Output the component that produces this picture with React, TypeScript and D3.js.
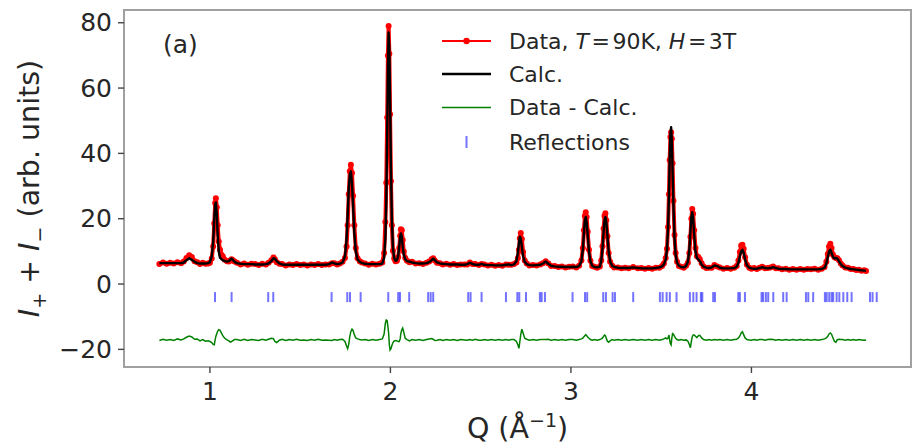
import React, { useEffect } from "react";
import * as d3 from "d3";

// ---------- data ----------
const qValues = [
  0.72,0.74,0.76,0.78,0.80,0.82,0.84,0.855,0.87,0.885,
  0.90,0.915,0.93,0.945,0.96,0.975,0.99,1.000,1.010,1.018,
  1.024,1.029,1.033,1.038,1.043,1.049,1.056,1.064,1.072,1.082,
  1.095,1.105,1.113,1.120,1.127,1.136,1.15,1.17,1.19,1.21,
  1.23,1.25,1.27,1.29,1.31,1.325,1.340,1.352,1.360,1.370,
  1.385,1.40,1.42,1.44,1.46,1.48,1.50,1.52,1.54,1.56,
  1.58,1.60,1.62,1.64,1.66,1.676,1.69,1.705,1.72,1.735,
  1.748,1.757,1.763,1.769,1.775,1.781,1.787,1.793,1.800,1.808,
  1.818,1.830,1.842,1.86,1.88,1.90,1.92,1.94,1.955,1.965,
  1.972,1.977,1.982,1.986,1.990,1.994,1.998,2.003,2.008,2.014,
  2.021,2.028,2.036,2.043,2.049,2.054,2.058,2.063,2.068,2.074,
  2.082,2.092,2.105,2.12,2.14,2.16,2.18,2.20,2.215,2.228,
  2.237,2.246,2.258,2.275,2.29,2.31,2.33,2.35,2.37,2.39,
  2.41,2.425,2.44,2.455,2.47,2.49,2.505,2.52,2.54,2.56,
  2.58,2.60,2.62,2.64,2.655,2.67,2.685,2.698,2.706,2.712,
  2.717,2.722,2.728,2.735,2.744,2.755,2.77,2.79,2.81,2.83,
  2.845,2.86,2.875,2.89,2.91,2.93,2.95,2.97,2.99,3.01,
  3.03,3.045,3.058,3.066,3.072,3.077,3.082,3.087,3.093,3.100,
  3.108,3.118,3.13,3.145,3.16,3.168,3.175,3.181,3.186,3.191,
  3.196,3.202,3.209,3.217,3.228,3.24,3.26,3.28,3.30,3.32,
  3.345,3.37,3.39,3.41,3.43,3.45,3.47,3.49,3.505,3.515,
  3.525,3.532,3.538,3.543,3.547,3.551,3.555,3.559,3.563,3.568,
  3.574,3.580,3.588,3.598,3.61,3.625,3.638,3.648,3.656,3.662,
  3.667,3.672,3.677,3.683,3.690,3.698,3.706,3.714,3.724,3.735,
  3.75,3.765,3.78,3.795,3.81,3.825,3.845,3.865,3.885,3.905,
  3.918,3.928,3.936,3.943,3.950,3.957,3.965,3.975,3.988,4.00,
  4.015,4.03,4.045,4.06,4.075,4.09,4.105,4.12,4.135,4.15,
  4.17,4.19,4.21,4.23,4.25,4.27,4.29,4.31,4.33,4.35,
  4.37,4.39,4.405,4.415,4.423,4.430,4.437,4.444,4.452,4.460,
  4.468,4.476,4.485,4.495,4.505,4.52,4.535,4.55,4.565,4.58,
  4.595,4.61,4.625,4.635,
];

const calcValues = [
  6.4,6.4,6.4,6.4,6.4,6.4,6.4,6.6,7.3,7.9,
  7.4,6.8,6.4,6.3,6.3,6.3,6.4,6.7,8.5,13.0,
  20.0,24.5,25.0,21.5,15.0,10.0,8.0,7.6,7.3,7.0,
  6.9,7.0,7.5,7.8,7.4,6.8,6.4,6.2,6.1,6.1,
  6.1,6.0,6.0,6.0,6.1,6.3,7.0,7.9,7.8,7.0,
  6.3,6.0,5.9,5.9,5.9,5.9,5.9,5.9,5.9,5.9,
  5.9,5.9,5.9,5.9,6.1,6.6,6.3,6.1,6.2,6.6,
  8.5,13.5,21.0,29.0,33.5,34.5,31.0,24.0,15.5,10.0,
  7.5,6.8,6.5,6.2,6.1,6.1,6.1,6.1,6.3,8.0,
  14.0,25.0,45.0,66.0,77.0,72.0,56.0,35.0,20.0,11.0,
  8.0,7.1,7.3,8.6,11.5,14.5,15.5,14.5,11.5,9.0,
  7.6,7.0,6.9,6.6,6.4,6.3,6.3,6.4,6.7,7.3,
  7.8,7.3,6.6,6.3,6.2,6.1,6.0,6.0,6.0,5.9,
  5.9,6.1,6.5,6.2,5.9,5.9,6.2,5.9,5.8,5.8,
  5.7,5.7,5.7,5.9,6.0,5.8,6.0,7.0,9.5,12.5,
  14.5,14.0,11.5,8.5,6.8,6.1,5.8,5.7,5.8,5.9,
  6.3,6.9,6.2,5.6,5.4,5.3,5.3,5.2,5.2,5.3,
  5.2,5.5,7.0,10.5,15.5,19.5,20.5,19.0,15.0,10.0,
  7.0,5.6,5.2,5.1,5.3,7.0,11.0,16.0,19.5,20.5,
  19.0,15.0,10.0,7.0,5.6,5.2,5.0,4.9,4.9,4.9,
  5.1,4.9,4.8,4.8,4.8,4.8,4.9,5.1,5.4,6.0,
  7.5,10.5,17.0,27.0,38.0,46.0,48.0,44.0,35.0,24.0,
  14.0,9.0,6.6,5.6,5.2,5.1,5.5,6.8,10.5,16.0,
  20.5,22.0,20.0,15.0,10.0,8.0,7.5,7.0,6.0,5.3,
  5.0,4.9,5.1,5.7,5.5,5.0,4.8,4.8,4.8,4.9,
  5.3,6.5,8.5,10.0,10.5,9.5,7.5,5.8,5.0,4.8,
  4.7,4.7,4.9,5.2,4.9,4.8,4.9,5.2,4.9,4.7,
  4.6,4.6,4.5,4.5,4.5,4.5,4.5,4.5,4.5,4.5,
  4.5,4.6,5.0,6.2,8.2,10.0,10.5,9.5,8.3,7.8,
  8.0,7.8,7.0,6.1,5.5,5.0,4.8,4.6,4.5,4.4,
  4.3,4.2,4.1,4.1,
];

const obsValues = [
  6.1,6.6,6.2,6.5,6.3,6.7,6.4,6.9,8.0,8.8,
  8.3,7.0,6.7,6.1,6.5,6.2,6.3,6.5,7.8,11.5,
  18.5,24.8,26.3,23.5,18.0,13.0,10.5,9.0,8.4,7.4,
  7.0,6.9,7.2,7.6,7.3,6.9,6.5,6.0,6.3,5.9,
  6.2,6.1,5.8,6.2,6.0,6.5,7.3,8.1,7.6,6.7,
  6.2,6.1,5.7,6.0,5.8,6.1,5.8,6.0,5.7,6.0,
  5.8,6.1,5.8,6.0,6.0,6.4,6.4,6.0,6.3,6.8,
  8.0,11.5,18.0,27.5,34.5,36.5,34.0,27.0,18.0,11.0,
  7.9,7.0,6.6,6.3,5.9,6.2,6.0,6.2,6.6,9.5,
  19.0,31.0,51.0,70.0,79.0,70.5,52.0,31.5,18.0,10.2,
  7.8,7.0,7.1,8.2,11.0,14.8,16.8,16.5,13.5,10.0,
  8.0,7.1,6.7,6.8,6.3,6.4,6.1,6.5,6.9,7.6,
  7.9,7.2,6.5,6.4,6.0,6.2,5.9,6.1,5.8,6.0,
  6.0,6.0,6.6,6.1,6.1,5.8,6.1,6.0,5.7,5.9,
  5.6,5.8,5.6,6.0,5.9,5.9,6.1,6.6,8.0,10.5,
  14.0,15.6,13.8,9.8,7.2,6.3,5.7,5.8,5.7,6.0,
  6.4,7.0,6.3,5.5,5.5,5.2,5.4,5.1,5.3,5.4,
  5.1,5.6,7.2,11.0,16.5,20.8,22.0,20.5,16.0,10.5,
  7.1,5.5,5.3,5.0,5.4,7.2,11.6,17.0,20.8,21.7,
  19.5,14.6,9.5,6.8,5.7,5.1,5.1,4.8,5.0,4.8,
  5.2,4.8,4.9,4.7,4.9,4.7,5.0,5.0,5.5,6.3,
  8.0,10.8,17.5,27.5,38.0,45.0,46.5,44.5,37.0,25.5,
  15.0,9.5,6.8,5.5,5.3,5.0,5.6,6.5,9.5,14.5,
  20.0,23.0,21.5,16.5,11.0,8.5,8.3,7.6,6.4,5.4,
  4.9,5.0,5.0,5.8,5.4,5.1,4.7,4.9,4.7,5.0,
  5.5,7.2,9.8,11.8,12.0,10.8,8.2,5.9,5.0,4.7,
  4.9,4.6,5.0,5.3,4.8,4.9,5.1,5.4,4.8,4.8,
  4.5,4.7,4.4,4.6,4.4,4.6,4.4,4.6,4.5,4.7,
  4.4,4.7,5.2,6.8,9.2,11.5,12.3,11.0,9.0,8.2,
  8.0,7.9,7.3,6.3,5.7,5.1,5.0,4.6,4.6,4.3,
  4.4,4.1,4.2,4.0,
];

// Data - Calc, drawn with its offset as in the reference
const diffValues = [
  -17.3,-16.9,-17.2,-17.0,-17.3,-16.8,-17.1,-16.8,-16.3,-15.9,
  -16.2,-16.9,-16.8,-17.4,-17.0,-17.5,-17.4,-17.6,-17.9,-18.5,
  -18.6,-17.0,-16.0,-15.2,-14.4,-14.0,-14.2,-15.0,-15.9,-16.6,
  -17.1,-17.4,-17.8,-17.6,-17.3,-17.0,-17.0,-17.3,-16.9,-17.3,
  -17.0,-17.1,-17.3,-16.9,-17.2,-16.9,-16.6,-16.7,-17.6,-17.9,
  -17.2,-16.9,-17.3,-17.0,-17.2,-16.9,-17.2,-17.1,-17.3,-17.0,
  -17.2,-16.9,-17.2,-17.1,-17.2,-17.3,-17.0,-17.2,-17.0,-16.9,
  -17.6,-19.0,-19.8,-18.5,-16.0,-14.5,-13.8,-14.2,-15.5,-16.5,
  -16.8,-17.0,-17.1,-17.0,-17.3,-17.0,-17.2,-17.0,-16.8,-15.3,
  -12.0,-11.0,-11.2,-13.0,-15.0,-18.6,-20.2,-19.8,-18.8,-17.9,
  -17.4,-17.3,-17.4,-17.6,-17.6,-16.8,-15.0,-14.0,-13.5,-14.8,
  -16.6,-17.0,-17.4,-17.0,-17.2,-17.0,-17.3,-17.0,-16.8,-16.7,
  -16.9,-17.3,-17.2,-17.0,-17.3,-17.0,-17.2,-17.0,-17.3,-17.0,
  -17.1,-17.2,-17.0,-17.2,-16.9,-17.2,-17.2,-17.0,-17.2,-17.0,
  -17.2,-17.0,-17.2,-17.0,-17.2,-17.0,-17.0,-17.6,-18.6,-19.7,
  -17.6,-15.5,-13.8,-15.0,-16.6,-16.9,-17.2,-17.0,-17.2,-17.0,
  -17.0,-17.0,-16.9,-17.2,-17.0,-17.2,-17.0,-17.2,-17.0,-17.0,
  -17.2,-17.0,-16.8,-16.6,-16.1,-15.8,-15.5,-15.8,-16.2,-16.6,
  -17.0,-17.2,-17.0,-17.2,-17.0,-16.8,-16.5,-16.0,-15.6,-15.8,
  -16.6,-17.5,-17.8,-17.4,-17.0,-17.2,-17.0,-17.2,-17.0,-17.2,
  -17.0,-17.2,-17.0,-17.2,-17.0,-17.2,-17.0,-17.2,-17.0,-16.8,
  -16.5,-16.8,-16.6,-15.6,-17.1,-18.2,-18.6,-16.6,-15.2,-15.4,
  -16.0,-16.6,-17.0,-17.2,-17.0,-17.2,-17.1,-17.5,-18.5,-19.5,
  -17.6,-16.2,-15.6,-15.6,-16.0,-16.4,-15.8,-15.7,-16.5,-17.0,
  -17.2,-17.0,-17.2,-17.0,-17.1,-17.0,-17.2,-17.0,-17.2,-17.0,
  -16.9,-16.5,-15.9,-15.0,-14.6,-15.5,-16.5,-17.0,-17.1,-17.2,
  -17.0,-17.2,-17.0,-17.0,-17.2,-17.0,-16.9,-17.0,-17.2,-17.0,
  -17.2,-17.0,-17.2,-17.0,-17.2,-17.0,-17.2,-17.0,-17.2,-17.0,
  -17.2,-17.0,-16.8,-16.5,-16.0,-15.3,-15.0,-15.4,-16.5,-17.6,
  -17.8,-17.0,-16.9,-17.0,-17.0,-17.2,-17.0,-17.2,-17.0,-17.2,
  -17.0,-17.1,-17.2,-17.1,
];

const reflectionQ = [
  1.028,1.120,1.323,1.351,1.674,1.761,1.776,1.835,1.988,2.043,2.053,2.104,
  2.209,2.223,2.237,2.431,2.444,2.505,2.640,2.703,2.714,2.751,2.828,2.838,
  2.856,3.009,3.078,3.090,3.179,3.194,3.231,3.244,3.345,3.493,3.508,3.530,
  3.548,3.585,3.659,3.678,3.696,3.720,3.728,3.788,3.798,3.927,3.936,3.964,
  4.056,4.065,4.080,4.093,4.121,4.176,4.195,4.302,4.315,4.342,4.407,4.417,
  4.431,4.444,4.453,4.472,4.487,4.509,4.531,4.555,4.657,4.671,4.694,
];
const reflectionLevel = -4;

const xTicks = [1, 2, 3, 4];
const yTicks = [-20, 0, 20, 40, 60, 80];
const xDomain = [0.524, 4.884];
const yDomain = [-25.4, 83.9];

const W = 912;
const H = 445;
const FONT = "DejaVu Sans, sans-serif";
const TXT = "#262626";

export default function App() {
  useEffect(() => {
    document.body.style.margin = "0";
  }, []);

  const left = 124, right = 911, top = 10, bottom = 367;
  const x = d3.scaleLinear().domain(xDomain).range([left, right]);
  const y = d3.scaleLinear().domain(yDomain).range([bottom, top]);

  const obsPts: [number, number][] = qValues.map((q, i) => [q, obsValues[i]]);
  const calcPts: [number, number][] = qValues.map((q, i) => [q, calcValues[i]]);
  const diffPts: [number, number][] = qValues.map((q, i) => [q, diffValues[i]]);

  const line = d3
    .line<[number, number]>()
    .x((d) => x(d[0]))
    .y((d) => y(d[1]));

  const legendX1 = 442, legendX2 = 491, legendMid = 466.5, legendText = 509;
  const rows = [41, 74, 107.5, 142];

  return (
    <svg
      width={W}
      height={H}
      style={{ position: "absolute", left: 0, top: 0, display: "block", background: "#fff" }}
      fontFamily={FONT}
    >
      <defs>
        <clipPath id="plotclip">
          <rect x={left} y={top} width={right - left} height={bottom - top} />
        </clipPath>
      </defs>

      <g clipPath="url(#plotclip)">
        {/* observed data: red line with dots */}
        <path d={line(obsPts) || ""} fill="none" stroke="#ff0000" strokeWidth={4} strokeLinejoin="round" />
        {obsPts.map((d, i) => (
          <circle key={"o" + i} cx={x(d[0])} cy={y(d[1])} r={3} fill="#ff0000" />
        ))}
        {/* calc */}
        <path d={line(calcPts) || ""} fill="none" stroke="#000" strokeWidth={2.4} strokeLinejoin="round" />
        {/* difference */}
        <path d={line(diffPts) || ""} fill="none" stroke="#008000" strokeWidth={1.5} />
        {/* reflections */}
        {reflectionQ.map((q, i) => (
          <line
            key={"r" + i}
            x1={x(q)}
            x2={x(q)}
            y1={y(reflectionLevel) - 5}
            y2={y(reflectionLevel) + 5}
            stroke="#0000ff"
            strokeOpacity={0.55}
            strokeWidth={2}
          />
        ))}
      </g>

      {/* frame */}
      <rect x={left} y={top} width={right - left} height={bottom - top} fill="none" stroke="#a0a0a0" strokeWidth={2} />

      {/* y ticks */}
      {yTicks.map((t) => (
        <g key={"yt" + t}>
          <line x1={left - 6} x2={left} y1={y(t)} y2={y(t)} stroke="#444" strokeWidth={1.4} />
          <text x={left - 12} y={y(t)} textAnchor="end" dominantBaseline="central" fontSize={25} fill={TXT}>
            {t < 0 ? "\u2212" + Math.abs(t) : String(t)}
          </text>
        </g>
      ))}

      {/* x ticks */}
      {xTicks.map((t) => (
        <g key={"xt" + t}>
          <line x1={x(t)} x2={x(t)} y1={bottom} y2={bottom + 6} stroke="#444" strokeWidth={1.4} />
          <text x={x(t)} y={400} textAnchor="middle" fontSize={25} fill={TXT}>
            {String(t)}
          </text>
        </g>
      ))}

      {/* x label */}
      <text x={(left + right) / 2} y={438} textAnchor="middle" fontSize={28.5} fill={TXT}>
        Q (Å
        <tspan dy={-11} fontSize={19}>{"\u22121"}</tspan>
        <tspan dy={11}>)</tspan>
      </text>

      {/* y label */}
      <text
        transform={`translate(39, ${(top + bottom) / 2}) rotate(-90)`}
        textAnchor="middle"
        fontSize={28.5}
        fill={TXT}
      >
        <tspan fontStyle="italic">I</tspan>
        <tspan dy={7} fontSize={19}>+</tspan>
        <tspan dy={-7}>{" + "}</tspan>
        <tspan fontStyle="italic">I</tspan>
        <tspan dy={7} fontSize={19}>{"\u2212"}</tspan>
        <tspan dy={-7}>{" (arb. units)"}</tspan>
      </text>

      {/* panel label */}
      <text x={163} y={53} fontSize={25} fill={TXT}>(a)</text>

      {/* legend */}
      <g fontSize={22} fill={TXT}>
        <line x1={legendX1} x2={legendX2} y1={rows[0]} y2={rows[0]} stroke="#ff0000" strokeWidth={2.2} />
        <circle cx={legendMid} cy={rows[0]} r={3.2} fill="#ff0000" />
        <text x={legendText} y={rows[0]} dominantBaseline="central">
          Data, <tspan fontStyle="italic">T</tspan>
          <tspan dx={2.5}>=</tspan>
          <tspan dx={2.5}>90K, </tspan>
          <tspan fontStyle="italic">H</tspan>
          <tspan dx={2.5}>=</tspan>
          <tspan dx={2.5}>3T</tspan>
        </text>

        <line x1={legendX1} x2={legendX2} y1={rows[1]} y2={rows[1]} stroke="#000" strokeWidth={2.6} />
        <text x={legendText} y={rows[1]} dominantBaseline="central">Calc.</text>

        <line x1={legendX1} x2={legendX2} y1={rows[2]} y2={rows[2]} stroke="#008000" strokeWidth={1.5} />
        <text x={legendText} y={rows[2]} dominantBaseline="central">Data - Calc.</text>

        <line
          x1={legendMid}
          x2={legendMid}
          y1={rows[3] - 6}
          y2={rows[3] + 6}
          stroke="#0000ff"
          strokeOpacity={0.55}
          strokeWidth={2}
        />
        <text x={legendText} y={rows[3]} dominantBaseline="central">Reflections</text>
      </g>
    </svg>
  );
}
